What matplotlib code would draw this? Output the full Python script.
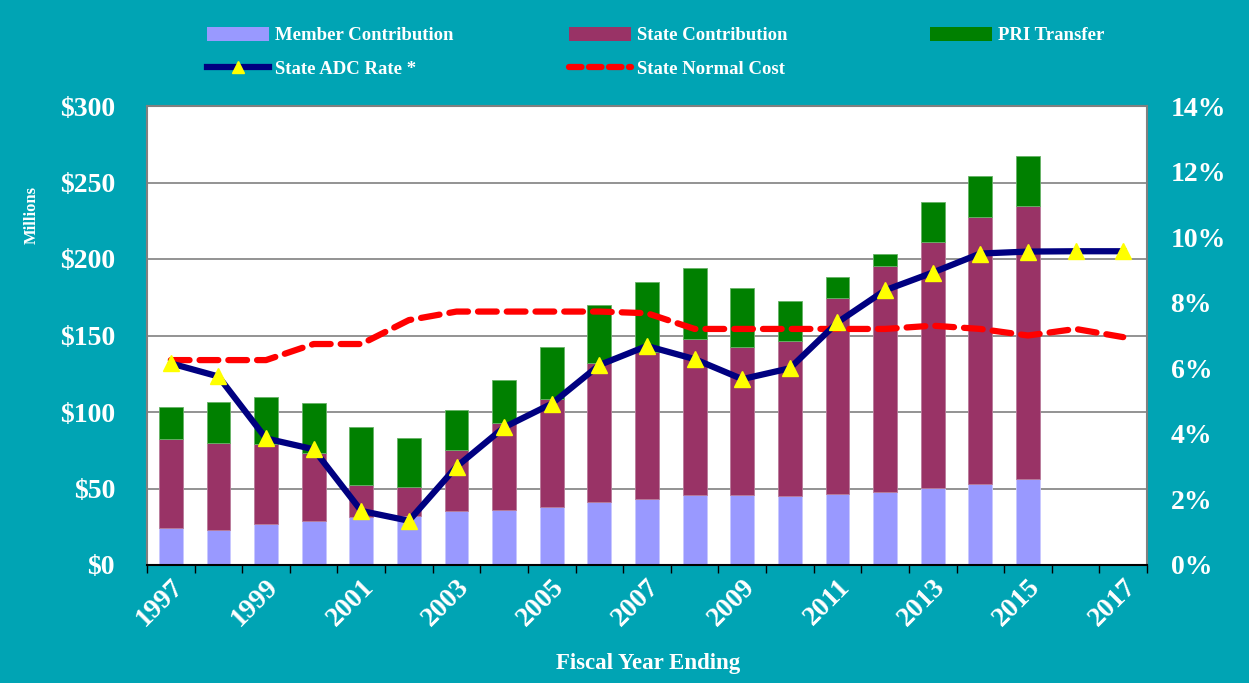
import numpy as np
import matplotlib
matplotlib.use("Agg")
import matplotlib.pyplot as plt
from matplotlib.patches import Patch
from matplotlib.lines import Line2D

years = list(range(1997, 2018))
member = [24, 23, 27, 29, 31.5, 32, 35, 36, 38, 41, 43, 45.5, 46, 45, 46.5, 48, 50.5, 53, 56]
state = [58.5, 57, 52, 44, 20.5, 19, 40, 57, 70.5, 91, 96.5, 102, 96.5, 101.5, 128, 147.5, 160.5, 174.5, 178.5]
pri = [21, 26.5, 31, 33, 38, 32, 26, 28, 34, 38, 45.5, 46.5, 38.5, 26, 13.5, 8, 26, 27, 32.5]
adc_rate = [6.15, 5.75, 3.86, 3.53, 1.65, 1.35, 3.0, 4.2, 4.92, 6.1, 6.68, 6.28, 5.67, 6.0,
            7.4, 8.38, 8.92, 9.5, 9.56, 9.57, 9.57]
normal_cost = [6.25, 6.25, 6.25, 6.74, 6.74, 7.47, 7.73, 7.73, 7.73, 7.73, 7.68, 7.2, 7.2, 7.2,
               7.2, 7.2, 7.3, 7.2, 7.0, 7.2, 6.95]

BG = "#00A4B4"
serif = ["Liberation Serif", "DejaVu Serif"]
plt.rcParams["font.family"] = serif
plt.rcParams["font.weight"] = "bold"

fig = plt.figure(figsize=(12.49, 6.83), dpi=100, facecolor=BG)
ax = fig.add_axes([147 / 1249, 1 - 565 / 683, 1000 / 1249, 459 / 683])
ax.set_facecolor("white")

x = np.arange(len(years))
xb = x[:len(member)]
w = 0.5
ax.bar(xb, member, w, color="#9999FF", edgecolor="#C8C8FF", linewidth=0.6, zorder=2)
b2 = np.array(member)
ax.bar(xb, state, w, bottom=b2, color="#993366", edgecolor="#B87A99", linewidth=0.6, zorder=2)
b3 = b2 + np.array(state)
ax.bar(xb, pri, w, bottom=b3, color="#008000", edgecolor="#66B366", linewidth=0.6, zorder=2)

ax.set_ylim(0, 300)
ax.set_xlim(-0.5, len(years) - 0.5)
ax.set_yticks(range(0, 301, 50))
ax.set_yticklabels(["$%d" % v for v in range(0, 301, 50)], color="white",
                   fontsize=20, fontweight="bold")
ax.tick_params(axis="y", length=0, pad=23)
ax.yaxis.grid(True, color="#808080", linewidth=1.2, zorder=0)
ax.set_axisbelow(True)

ax.set_xticks(x[::2])
ax.set_xticklabels([str(y) for y in years[::2]], rotation=45, ha="right", va="top",
                   rotation_mode="anchor", color="white", fontsize=20, fontweight="bold")
ax.set_xticks(np.arange(-0.5, len(years), 1), minor=True)
ax.tick_params(axis="x", which="major", length=0, pad=7)
ax.tick_params(axis="x", which="minor", length=6, width=1, color="black")

for s in ["left", "top", "right"]:
    ax.spines[s].set_color("#808080")
    ax.spines[s].set_linewidth(1.5)
ax.spines["bottom"].set_color("black")
ax.spines["bottom"].set_linewidth(1.5)

ax2 = ax.twinx()
ax2.set_ylim(0, 14)
ax2.set_yticks(range(0, 15, 2))
ax2.set_yticklabels(["%d%%" % v for v in range(0, 15, 2)], color="white",
                    fontsize=20, fontweight="bold")
ax2.tick_params(axis="y", length=0, pad=17)
for s in ax2.spines.values():
    s.set_visible(False)

ax2.plot(x, normal_cost, color="#FF0000", linewidth=4.5, dashes=(3, 1.6),
         dash_capstyle="round", zorder=3)
ax2.plot(x, adc_rate, color="#000080", linewidth=4.5, marker="^", markersize=11,
         markerfacecolor="#FFFF00", markeredgecolor="#FFFF00", zorder=4)

fig.text(648 / 1249, 1 - 663 / 683, "Fiscal Year Ending", ha="center", va="center",
         color="white", fontsize=16.5, fontweight="bold")
fig.text(32 / 1249, 1 - 215 / 683, "Millions", ha="center", va="center", rotation=90,
         color="white", fontsize=12, fontweight="bold")

h_member = Patch(facecolor="#9999FF", edgecolor="none")
h_state = Patch(facecolor="#993366", edgecolor="none")
h_pri = Patch(facecolor="#008000", edgecolor="none")
h_adc = Line2D([], [], color="#000080", linewidth=4.5, marker="^", markersize=9,
               markerfacecolor="#FFFF00", markeredgecolor="#FFFF00")
h_nc = Line2D([], [], color="#FF0000", linewidth=4.5, dashes=(2, 1.2), dash_capstyle="round")

groups = [
    (207, [h_member, h_adc], ["Member Contribution", "State ADC Rate *"]),
    (569, [h_state, h_nc], ["State Contribution", "State Normal Cost"]),
    (930, [h_pri], ["PRI Transfer"]),
]
for gx, hs, ls in groups:
    leg = fig.legend(hs, ls, loc="upper left", bbox_to_anchor=(gx / 1249, 1 - 27 / 683),
                     frameon=False, borderpad=0, borderaxespad=0, handlelength=3.3,
                     handleheight=0.75, handletextpad=0.35, labelspacing=0.85,
                     prop={"family": serif, "weight": "bold", "size": 13.5})
    for t in leg.get_texts():
        t.set_color("white")

fig.savefig("out.png", dpi=100, facecolor=BG)
